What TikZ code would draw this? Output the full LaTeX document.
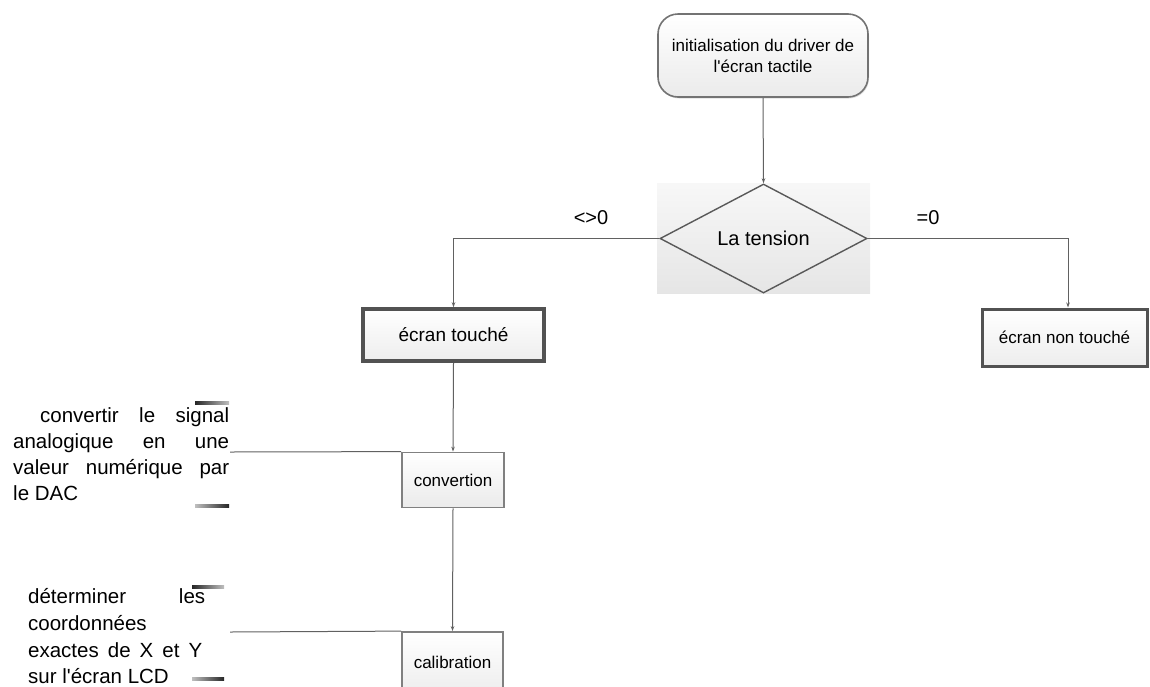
\documentclass[tikz,border=0pt]{standalone}
\usepackage{fontspec}
\setmainfont{Liberation Sans}
\usetikzlibrary{arrows.meta,shapes.geometric,shadows}
\begin{document}
\begin{tikzpicture}[x=1pt,y=-1pt,
  conn/.style={draw=black!62, line width=1pt},
  arr/.style={conn, -{Stealth[length=5pt,width=3.5pt]}},
  initbox/.style={rectangle, rounded corners=20pt, draw=black!55, line width=1.6pt,
    top color=white, bottom color=black!8, align=center, inner sep=0pt,
    font=\fontsize{17}{21}\selectfont,
    drop shadow={shadow xshift=1pt, shadow yshift=-1.5pt, opacity=0.25}},
  decision/.style={diamond, draw=black!65, line width=1.4pt, inner sep=0pt,
    aspect=1.9, font=\fontsize{20}{24}\selectfont},
  thickbox/.style={rectangle, draw=black!68, top color=white, bottom color=black!7,
    inner sep=0pt},
  stepbox/.style={rectangle, draw=black!50, line width=1.8pt, top color=white,
    bottom color=black!8, inner sep=0pt, font=\fontsize{17}{20}\selectfont},
  lbl/.style={inner sep=0pt, font=\fontsize{20}{24}\selectfont},
  note/.style={inner sep=0pt, anchor=base west, font=\fontsize{20.5}{26}\selectfont},
  markdl/.style={left color=black!85, right color=black!25, draw=none},
  markld/.style={left color=black!25, right color=black!85, draw=none}
]
\useasboundingbox (0,0) rectangle (1150,686);
\clip (0,0) rectangle (1150,686);

% background shading of the decision
\shade[top color=black!3, bottom color=black!10] (657,183) rectangle (870,293);

% nodes
\node[initbox, minimum width=210pt, minimum height=83pt] (init) at (763,55.5)
  {initialisation du driver de\\l\textquotesingle écran tactile};
\node[decision, minimum width=207pt, minimum height=109pt] (dec) at (763.5,238.5) {La tension};
\node[thickbox, line width=3.5pt, minimum width=181pt, minimum height=52pt,
  font=\fontsize{19}{22}\selectfont] (touche) at (453.5,335) {écran touché};
\node[thickbox, line width=3pt, minimum width=165pt, minimum height=57pt,
  font=\fontsize{17}{20}\selectfont] (nontouche) at (1064.5,337.5) {écran non touché};
\node[stepbox, minimum width=102pt, minimum height=55pt] (conv) at (453,480) {convertion};
\node[stepbox, minimum width=101pt, minimum height=70pt, text depth=0pt] (calib) at (452.5,667)
  {\raisebox{0pt}[0pt][0pt]{\makebox[0pt]{\raisebox{-1pt}{calibration}}}};

% labels
\node[lbl] (ne) at (591,218) {<>0};
\node[lbl] (eq) at (928,218) {=0};

% connectors
\draw[arr] (init.south) -- (dec.north);
\draw[arr] (dec.west) -| (touche.north);
\draw[arr] (dec.east) -| ([xshift=3.5pt]nontouche.north);
\draw[arr] (touche.south) -- (conv.north);
\draw[arr] (conv.south) -- (calib.north);

% annotation 1
\coordinate (a1) at (230,452);
\draw[conn] (a1) -- (conv.north west);
\node[note] (n11) at (40,422) {\makebox[189pt][s]{convertir le signal}};
\node[note] (n12) at (13,448) {\makebox[216pt][s]{analogique en une}};
\node[note] (n13) at (13,474) {\makebox[216pt][s]{valeur numérique par}};
\node[note] (n14) at (13,500) {le DAC};
\shade[markdl] (195,401.5) rectangle (229,404.5);
\shade[markld] (195,504.5) rectangle (229,507.5);

% annotation 2
\coordinate (a2) at (230,632);
\draw[conn] (a2) -- (calib.north west);
\node[note] (n21) at (28,603) {\makebox[177pt][s]{déterminer les}};
\node[note] (n22) at (28,630) {coordonnées};
\node[note] (n23) at (28,657) {\makebox[174pt][s]{exactes de X et Y}};
\node[note] (n24) at (28,683) {sur l\textquotesingle écran LCD};
\shade[markdl] (192,585.5) rectangle (224,588.5);
\shade[markld] (192,677.5) rectangle (224,680.5);
\end{tikzpicture}
\end{document}
